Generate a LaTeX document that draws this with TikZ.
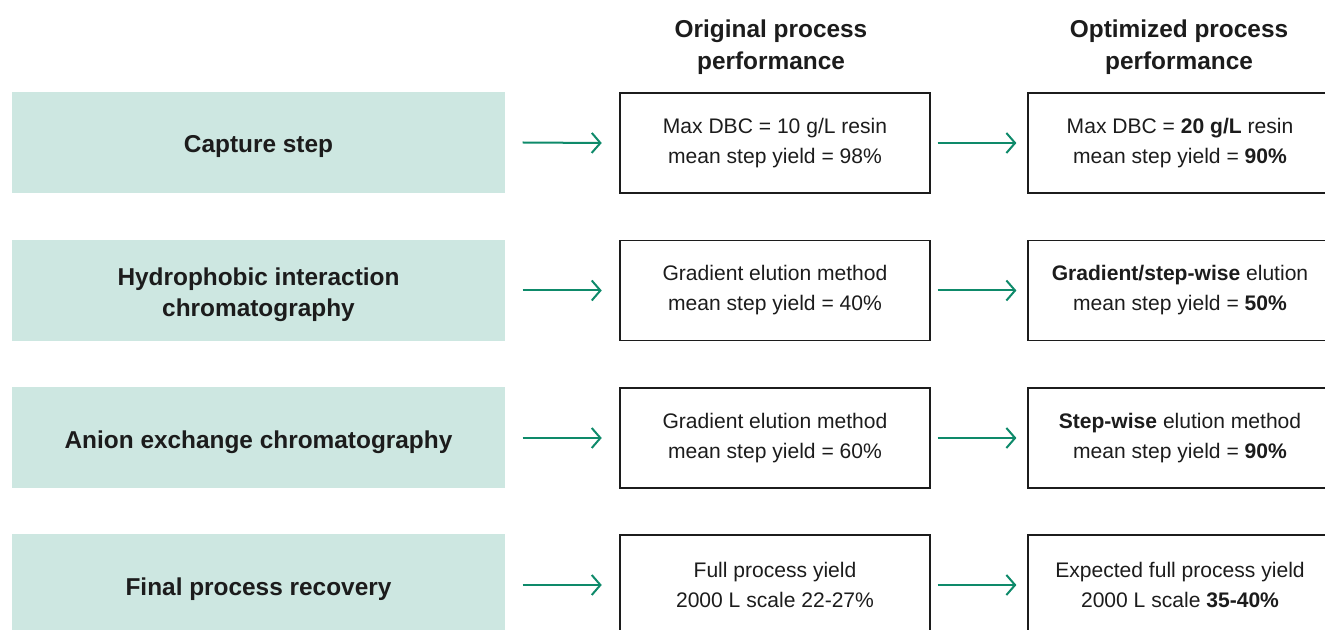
\documentclass[tikz,border=0pt]{standalone}
\usepackage{fontspec}
\setmainfont{Liberation Sans}
\usepackage{tikz}
\usetikzlibrary{arrows.meta,positioning}
\definecolor{procMint}{HTML}{CDE7E1}
\definecolor{procGreen}{HTML}{0E8A6A}
\definecolor{procInk}{HTML}{1C1C1C}
\newcommand{\lowlabel}[1]{\raisebox{-3pt}[\height][\depth]{#1}}
\tikzset{
  stage/.style={fill=procMint,minimum width=369.75pt,minimum height=75.75pt,
    align=center,inner sep=0pt,font=\fontsize{18.3}{23.4}\selectfont\bfseries,text=procInk},
  perf/.style={draw=procInk,line width=1.4pt,minimum width=232.5pt,minimum height=75pt,
    align=center,inner sep=0pt,font=\fontsize{15.8}{22.5}\selectfont,text=procInk},
  perfwide/.style={perf,minimum width=228pt},
  head/.style={align=center,font=\fontsize{18.3}{24}\selectfont\bfseries,text=procInk},
  flow/.style={-{Straight Barb[length=6.5pt,width=15pt,line width=1.5pt]},line width=1.5pt,procGreen}
}
\begin{document}
\begin{tikzpicture}[x=0.75pt,y=-0.75pt]
  \useasboundingbox (0,0) rectangle (1325,630);
  \clip (0,0) rectangle (1325,630);
  % column headings
  \node[head] (hdOrig) at (771,47.5) {Original process\\performance};
  \node[head] (hdOpt) at (1179,47.5) {Optimized process\\performance};
  % capture
  \node[stage] (stCap) at (258.5,142.5) {\lowlabel{Capture step}};
  \node[perf] (orCap) at (775,143) {Max DBC = 10 g/L resin\\mean step yield = 98\%};
  \node[perfwide] (opCap) at (1180,143) {Max DBC = \textbf{20 g/L} resin\\mean step yield = \textbf{90\%}};
  % HIC
  \node[stage] (stHic) at (258.5,290.5) {\lowlabel{Hydrophobic interaction}\\\lowlabel{chromatography}};
  \node[perf] (orHic) at (775,290.5) {Gradient elution method\\mean step yield = 40\%};
  \node[perfwide] (opHic) at (1180,290.5) {\textbf{Gradient/step-wise} elution\\mean step yield = \textbf{50\%}};
  % AEX
  \node[stage] (stAex) at (258.5,438) {\lowlabel{Anion exchange chromatography}};
  \node[perf] (orAex) at (775,438) {Gradient elution method\\mean step yield = 60\%};
  \node[perfwide] (opAex) at (1180,438) {\textbf{Step-wise} elution method\\mean step yield = \textbf{90\%}};
  % overall
  \node[stage] (stFin) at (258.5,585) {\lowlabel{Final process recovery}};
  \node[perf] (orFin) at (775,585) {Full process yield\\2000 L scale 22-27\%};
  \node[perfwide] (opFin) at (1180,585) {Expected full process yield\\2000 L scale \textbf{35-40\%}};
  \foreach \a/\b/\c in {stCap/orCap/opCap,stHic/orHic/opHic,stAex/orAex/opAex,stFin/orFin/opFin}{
    \draw[flow] ([xshift=13pt]\a.east) -- ([xshift=-13pt]\b.west);
    \draw[flow] ([xshift=5pt]\b.east) -- ([xshift=-8pt]\c.west);
  }
\end{tikzpicture}
\end{document}
